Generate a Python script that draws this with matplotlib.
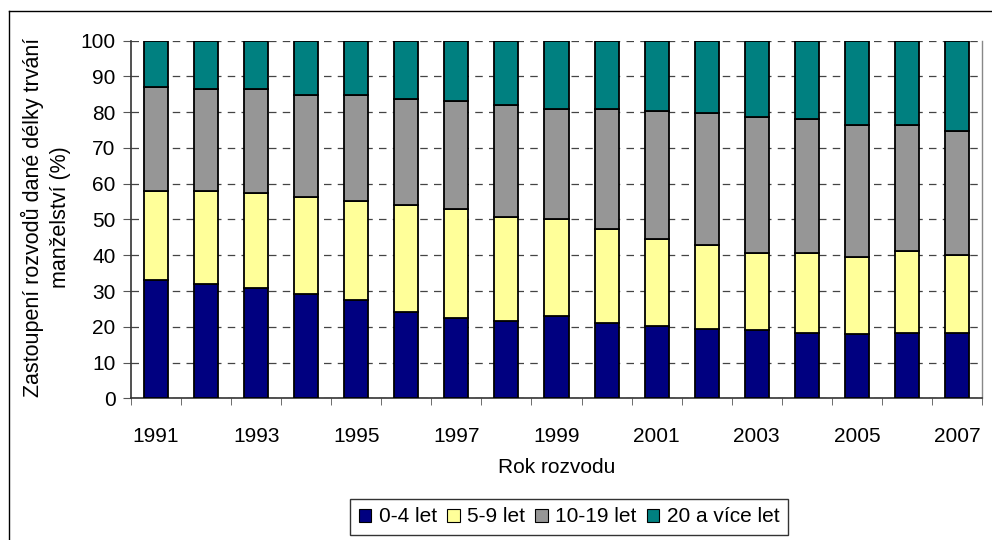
import matplotlib
matplotlib.use("Agg")
import matplotlib.pyplot as plt
from matplotlib.lines import Line2D
from matplotlib.patches import Patch
import numpy as np

plt.rcParams['font.family'] = ['Liberation Sans', 'DejaVu Sans']

years = list(range(1991, 2008))
# cumulative tops
blue_top = [33.1, 32.0, 30.8, 29.1, 27.5, 24.0, 22.4, 21.7, 23.0, 21.1, 20.2, 19.5, 19.1, 18.4, 18.0, 18.4, 18.4]
yellow_top = [58.0, 58.0, 57.3, 56.4, 55.2, 54.1, 52.9, 50.7, 50.1, 47.3, 44.5, 42.9, 40.7, 40.7, 39.4, 41.3, 40.2]
gray_top = [87.1, 86.6, 86.6, 84.9, 84.9, 83.7, 83.2, 82.1, 81.0, 81.0, 80.4, 79.9, 78.8, 78.2, 76.5, 76.5, 74.8]

s_0_4 = np.array(blue_top)
s_5_9 = np.array(yellow_top) - np.array(blue_top)
s_10_19 = np.array(gray_top) - np.array(yellow_top)
s_20 = 100 - np.array(gray_top)

series = [s_0_4, s_5_9, s_10_19, s_20]
labels = ['0-4 let', '5-9 let', '10-19 let', '20 a více let']
colors = ['#000080', '#FFFF99', '#969696', '#008080']

FS = 15

fig = plt.figure(figsize=(9.92, 5.4), dpi=100)
ax = fig.add_axes([131/992, 1-398.3/540, 851/992, (398.3-40.7)/540])

x = np.arange(len(years))
bottom = np.zeros(len(years))
for s, c in zip(series, colors):
    ax.bar(x, s, bottom=bottom, width=0.48, color=c, edgecolor='black', linewidth=1.3, zorder=3)
    bottom = bottom + s

ax.set_xlim(-0.5, len(years) - 0.5)
ax.set_ylim(0, 100)
ax.set_yticks(np.arange(0, 101, 10))
ax.yaxis.grid(True, color='#444444', linestyle=(0, (6, 5)), linewidth=0.9)
ax.set_axisbelow(True)

ax.set_xticks(x[::2])
ax.set_xticklabels([str(y) for y in years[::2]])
ax.set_xticks(np.arange(-0.5, len(years), 1), minor=True)
ax.tick_params(axis='x', which='major', length=0, pad=21, labelsize=FS)
ax.tick_params(axis='x', which='minor', length=5, direction='out', color='#555555')
ax.tick_params(axis='y', length=6, direction='out', labelsize=FS, pad=5, color='#555555')

for sp in ['left', 'bottom']:
    ax.spines[sp].set_color('#333333')
    ax.spines[sp].set_linewidth(1.2)
ax.spines['top'].set_visible(False)
ax.spines['right'].set_color('#888888')
ax.spines['right'].set_linewidth(1.0)

ax.set_xlabel('Rok rozvodu', fontsize=FS, labelpad=8)
fig.text(46/992, 1-217/540, 'Zastoupení rozvodů dané délky trvání\nmanželství (%)',
         rotation=90, ha='center', va='center', multialignment='center',
         fontsize=FS + 0.5, linespacing=1.35)

handles = [Patch(facecolor=c, edgecolor='black', linewidth=0.8) for c in colors]
leg = fig.legend(handles, labels, loc='center', bbox_to_anchor=(569/992, 1-517/540), ncol=4,
                 fontsize=FS, frameon=True, fancybox=False, edgecolor='black',
                 handlelength=0.6, handleheight=0.6, handletextpad=0.35, columnspacing=0.5,
                 borderpad=0.4, borderaxespad=0)
leg.get_frame().set_linewidth(1.0)

# outer chart frame (left and top edges visible)
fig.add_artist(Line2D([9/992, 9/992], [0, 1-11/540], color='black', linewidth=1.0, transform=fig.transFigure))
fig.add_artist(Line2D([9/992, 1], [1-11/540, 1-11/540], color='black', linewidth=1.0, transform=fig.transFigure))

fig.savefig('out.png', dpi=100)
